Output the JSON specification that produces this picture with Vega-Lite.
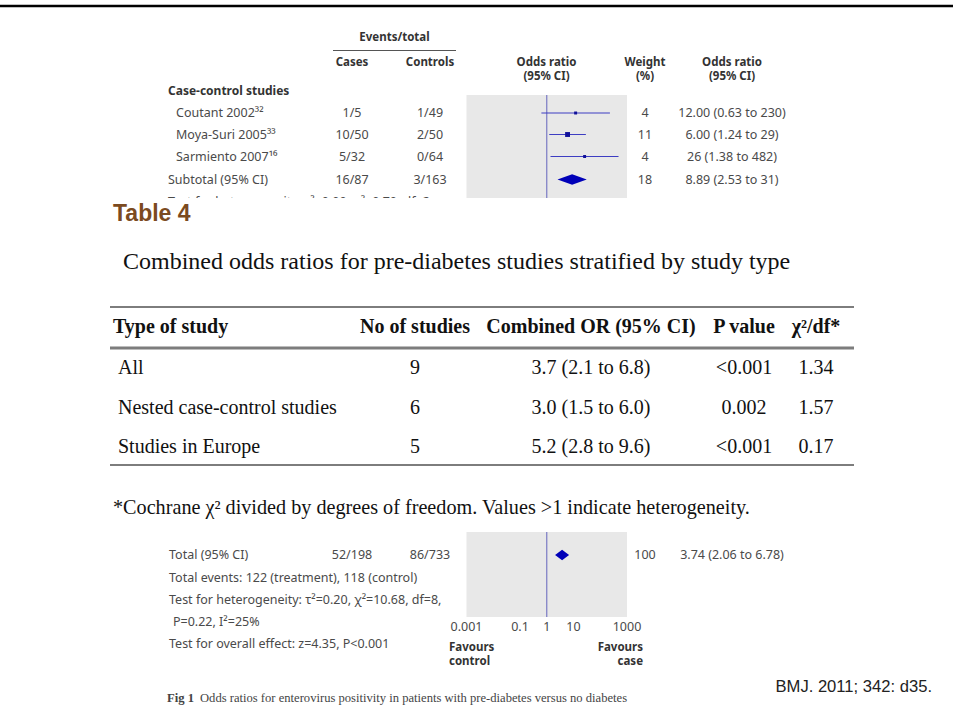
{
  "$schema": "https://vega.github.io/schema/vega-lite/v6.json",
  "width": 953,
  "height": 721,
  "autosize": "none",
  "padding": 0,
  "background": "white",
  "config": {"view": {"stroke": null}},
  "datasets": {
    "page_frame": [{"line": -1}],
    "top_frame": [{"lo": 0.001, "hi": 1000, "null_or": 1, "top": 5, "bottom": 11}],
    "top_forest": [
      {"study": "Coutant 2002", "line": 6, "or": 12, "lo": 0.63, "hi": 230, "weight": 4, "kind": "study"},
      {"study": "Moya-Suri 2005", "line": 7, "or": 6, "lo": 1.24, "hi": 29, "weight": 11, "kind": "study"},
      {"study": "Sarmiento 2007", "line": 8, "or": 26, "lo": 1.38, "hi": 482, "weight": 4, "kind": "study"},
      {"study": "Subtotal", "line": 9, "or": 8.89, "lo": 2.53, "hi": 31, "weight": 18, "kind": "pooled"}
    ],
    "top_rules": [{"line": 1, "from": 2, "to": 6}],
    "top_text": [
      {"line": 0, "col": 4, "text": "Events/total", "kind": "head"},
      {"line": 2, "col": 3, "text": "Cases", "kind": "head"},
      {"line": 2, "col": 5, "text": "Controls", "kind": "head"},
      {"line": 2, "col": 7, "text": "Odds ratio", "kind": "head"},
      {"line": 3, "col": 7, "text": "(95% CI)", "kind": "head"},
      {"line": 2, "col": 8, "text": "Weight", "kind": "head"},
      {"line": 3, "col": 8, "text": "(%)", "kind": "head"},
      {"line": 2, "col": 9, "text": "Odds ratio", "kind": "head"},
      {"line": 3, "col": 9, "text": "(95% CI)", "kind": "head"},
      {"line": 4, "col": 0, "text": "Case-control studies", "kind": "group"},
      {"line": 6, "col": 1, "text": "Coutant 2002³²", "kind": "label"},
      {"line": 6, "col": 3, "text": "1/5", "kind": "cell"},
      {"line": 6, "col": 5, "text": "1/49", "kind": "cell"},
      {"line": 6, "col": 8, "text": "4", "kind": "cell"},
      {"line": 6, "col": 9, "text": "12.00 (0.63 to 230)", "kind": "cell"},
      {"line": 7, "col": 1, "text": "Moya-Suri 2005³³", "kind": "label"},
      {"line": 7, "col": 3, "text": "10/50", "kind": "cell"},
      {"line": 7, "col": 5, "text": "2/50", "kind": "cell"},
      {"line": 7, "col": 8, "text": "11", "kind": "cell"},
      {"line": 7, "col": 9, "text": "6.00 (1.24 to 29)", "kind": "cell"},
      {"line": 8, "col": 1, "text": "Sarmiento 2007¹⁶", "kind": "label"},
      {"line": 8, "col": 3, "text": "5/32", "kind": "cell"},
      {"line": 8, "col": 5, "text": "0/64", "kind": "cell"},
      {"line": 8, "col": 8, "text": "4", "kind": "cell"},
      {"line": 8, "col": 9, "text": "26 (1.38 to 482)", "kind": "cell"},
      {"line": 9, "col": 0, "text": "Subtotal (95% CI)", "kind": "label"},
      {"line": 9, "col": 3, "text": "16/87", "kind": "cell"},
      {"line": 9, "col": 5, "text": "3/163", "kind": "cell"},
      {"line": 9, "col": 8, "text": "18", "kind": "cell"},
      {"line": 9, "col": 9, "text": "8.89 (2.53 to 31)", "kind": "cell"},
      {"line": 10, "col": 0, "text": "Test for heterogeneity: τ²=0.00, χ²=0.70, df=2", "kind": "label"}
    ],
    "table_area": [{"top": 0, "bottom": 11}],
    "table_rules": [
      {"line": 3, "from": 0, "to": 8, "kind": "edge"},
      {"line": 5, "from": 0, "to": 8, "kind": "header"},
      {"line": 9, "from": 0, "to": 8, "kind": "edge"}
    ],
    "table_text": [
      {"line": 1, "col": 1, "text": "Table 4", "kind": "title"},
      {"line": 2, "col": 3, "text": "Combined odds ratios for pre-diabetes studies stratified by study type", "kind": "caption"},
      {"line": 4, "col": 1, "text": "Type of study", "kind": "th_l"},
      {"line": 4, "col": 4, "text": "No of studies", "kind": "th_c"},
      {"line": 4, "col": 5, "text": "Combined OR (95% CI)", "kind": "th_c"},
      {"line": 4, "col": 6, "text": "P value", "kind": "th_c"},
      {"line": 4, "col": 7, "text": "χ²/df*", "kind": "th_c"},
      {"line": 6, "col": 2, "text": "All", "kind": "td_l"},
      {"line": 6, "col": 4, "text": "9", "kind": "td_c"},
      {"line": 6, "col": 5, "text": "3.7 (2.1 to 6.8)", "kind": "td_c"},
      {"line": 6, "col": 6, "text": "<0.001", "kind": "td_c"},
      {"line": 6, "col": 7, "text": "1.34", "kind": "td_c"},
      {"line": 7, "col": 2, "text": "Nested case-control studies", "kind": "td_l"},
      {"line": 7, "col": 4, "text": "6", "kind": "td_c"},
      {"line": 7, "col": 5, "text": "3.0 (1.5 to 6.0)", "kind": "td_c"},
      {"line": 7, "col": 6, "text": "0.002", "kind": "td_c"},
      {"line": 7, "col": 7, "text": "1.57", "kind": "td_c"},
      {"line": 8, "col": 2, "text": "Studies in Europe", "kind": "td_l"},
      {"line": 8, "col": 4, "text": "5", "kind": "td_c"},
      {"line": 8, "col": 5, "text": "5.2 (2.8 to 9.6)", "kind": "td_c"},
      {"line": 8, "col": 6, "text": "<0.001", "kind": "td_c"},
      {"line": 8, "col": 7, "text": "0.17", "kind": "td_c"},
      {"line": 10, "col": 1, "text": "*Cochrane χ² divided by degrees of freedom. Values >1 indicate heterogeneity.", "kind": "note"}
    ],
    "bottom_frame": [{"lo": 0.001, "hi": 1000, "null_or": 1, "top": 0, "bottom": 4}],
    "bottom_forest": [{"study": "Total", "line": 1, "or": 3.74, "lo": 2.06, "hi": 6.78, "weight": 100, "kind": "pooled"}],
    "bottom_ticks": [
      {"tick": 0.001, "label": "0.001", "line": 6},
      {"tick": 0.1, "label": "0.1", "line": 6},
      {"tick": 1, "label": "1", "line": 6},
      {"tick": 10, "label": "10", "line": 6},
      {"tick": 1000, "label": "1000", "line": 6}
    ],
    "bottom_text": [
      {"line": 1, "col": 1, "text": "Total (95% CI)", "kind": "label"},
      {"line": 1, "col": 4, "text": "52/198", "kind": "cell"},
      {"line": 1, "col": 5, "text": "86/733", "kind": "cell"},
      {"line": 1, "col": 8, "text": "100", "kind": "cell"},
      {"line": 1, "col": 9, "text": "3.74 (2.06 to 6.78)", "kind": "cell"},
      {"line": 2, "col": 1, "text": "Total events: 122 (treatment), 118 (control)", "kind": "label"},
      {"line": 3, "col": 1, "text": "Test for heterogeneity: τ²=0.20, χ²=10.68, df=8,", "kind": "label"},
      {"line": 5, "col": 2, "text": "P=0.22, I²=25%", "kind": "label"},
      {"line": 7, "col": 1, "text": "Test for overall effect: z=4.35, P<0.001", "kind": "label"},
      {"line": 8, "col": 6, "text": "Favours", "kind": "fav_l"},
      {"line": 9, "col": 6, "text": "control", "kind": "fav_l"},
      {"line": 8, "col": 7, "text": "Favours", "kind": "fav_r"},
      {"line": 9, "col": 7, "text": "case", "kind": "fav_r"},
      {"line": 11, "col": 0, "text": "Fig 1", "kind": "fig"},
      {"line": 11, "col": 3, "text": "Odds ratios for enterovirus positivity in patients with pre-diabetes versus no diabetes", "kind": "cap"},
      {"line": 10, "col": 10, "text": "BMJ. 2011; 342: d35.", "kind": "src"}
    ]
  },
  "resolve": {"scale": {"x": "independent", "y": "independent", "size": "independent", "shape": "independent", "strokeWidth": "independent"}},
  "layer": [
    {
      "data": {"name": "top_frame"},
      "mark": {"type": "rect", "color": "#e8e8e8"},
      "encoding": {
        "x": {"field": "lo", "type": "quantitative", "scale": {"type": "log", "domain": [0.001, 1000], "range": [466.5, 627], "nice": false}, "axis": null},
        "x2": {"field": "hi"},
        "y": {"field": "top", "type": "quantitative", "scale": {"type": "linear", "domain": [-1, 0, 1, 2, 3, 4, 5, 6, 7, 8, 9, 10, 11], "range": [6, 37.5, 50.5, 62.5, 76.5, 90.5, 95, 113, 134.5, 156.5, 179.5, 202, 215], "nice": false, "zero": false}, "axis": null},
        "y2": {"field": "bottom"}
      }
    },
    {
      "data": {"name": "top_frame"},
      "mark": {"type": "rule", "color": "#7a7ac4", "strokeWidth": 1.2},
      "encoding": {
        "x": {"field": "null_or", "type": "quantitative", "scale": {"type": "log", "domain": [0.001, 1000], "range": [466.5, 627], "nice": false}, "axis": null},
        "y": {"field": "top", "type": "quantitative", "scale": {"type": "linear", "domain": [-1, 0, 1, 2, 3, 4, 5, 6, 7, 8, 9, 10, 11], "range": [6, 37.5, 50.5, 62.5, 76.5, 90.5, 95, 113, 134.5, 156.5, 179.5, 202, 215], "nice": false, "zero": false}, "axis": null},
        "y2": {"field": "bottom"}
      }
    },
    {
      "data": {"name": "top_forest"},
      "transform": [{"filter": "datum.kind === 'study'"}],
      "mark": {"type": "rule", "color": "#3d3dc2", "strokeWidth": 1.2},
      "encoding": {
        "x": {"field": "lo", "type": "quantitative", "scale": {"type": "log", "domain": [0.001, 1000], "range": [466.5, 627], "nice": false}, "axis": null},
        "x2": {"field": "hi"},
        "y": {"field": "line", "type": "quantitative", "scale": {"type": "linear", "domain": [-1, 0, 1, 2, 3, 4, 5, 6, 7, 8, 9, 10, 11], "range": [6, 37.5, 50.5, 62.5, 76.5, 90.5, 95, 113, 134.5, 156.5, 179.5, 202, 215], "nice": false, "zero": false}, "axis": null}
      }
    },
    {
      "data": {"name": "top_forest"},
      "transform": [{"filter": "datum.kind === 'study'"}],
      "mark": {"type": "point", "shape": "square", "filled": true, "color": "#10109a", "opacity": 1},
      "encoding": {
        "x": {"field": "or", "type": "quantitative", "scale": {"type": "log", "domain": [0.001, 1000], "range": [466.5, 627], "nice": false}, "axis": null},
        "y": {"field": "line", "type": "quantitative", "scale": {"type": "linear", "domain": [-1, 0, 1, 2, 3, 4, 5, 6, 7, 8, 9, 10, 11], "range": [6, 37.5, 50.5, 62.5, 76.5, 90.5, 95, 113, 134.5, 156.5, 179.5, 202, 215], "nice": false, "zero": false}, "axis": null},
        "size": {"field": "weight", "type": "quantitative", "scale": {"domain": [0, 11], "range": [0, 24]}, "legend": null}
      }
    },
    {
      "data": {"name": "top_forest"},
      "transform": [{"filter": "datum.kind === 'pooled'"}],
      "mark": {"type": "point", "shape": "M-1,0L0,-0.36L1,0L0,0.36Z", "filled": true, "color": "#0000b8", "opacity": 1, "size": 858},
      "encoding": {
        "x": {"field": "or", "type": "quantitative", "scale": {"type": "log", "domain": [0.001, 1000], "range": [466.5, 627], "nice": false}, "axis": null},
        "y": {"field": "line", "type": "quantitative", "scale": {"type": "linear", "domain": [-1, 0, 1, 2, 3, 4, 5, 6, 7, 8, 9, 10, 11], "range": [6, 37.5, 50.5, 62.5, 76.5, 90.5, 95, 113, 134.5, 156.5, 179.5, 202, 215], "nice": false, "zero": false}, "axis": null}
      }
    },
    {
      "data": {"name": "top_rules"},
      "mark": {"type": "rule", "color": "#555555", "strokeWidth": 1},
      "encoding": {
        "x": {"field": "from", "type": "quantitative", "scale": {"type": "linear", "domain": [0, 1, 2, 3, 4, 5, 6, 7, 8, 9], "range": [168, 176, 333, 352, 394.5, 430, 456, 546.5, 645, 732], "nice": false, "zero": false}, "axis": null},
        "x2": {"field": "to"},
        "y": {"field": "line", "type": "quantitative", "scale": {"type": "linear", "domain": [-1, 0, 1, 2, 3, 4, 5, 6, 7, 8, 9, 10, 11], "range": [6, 37.5, 50.5, 62.5, 76.5, 90.5, 95, 113, 134.5, 156.5, 179.5, 202, 215], "nice": false, "zero": false}, "axis": null}
      }
    },
    {
      "data": {"name": "top_text"},
      "transform": [{"filter": "datum.kind === 'label'"}],
      "mark": {"type": "text", "align": "left", "baseline": "middle", "font": "Noto Sans", "fontSize": 12.5, "color": "#4a4a4a"},
      "encoding": {
        "x": {"field": "col", "type": "quantitative", "scale": {"type": "linear", "domain": [0, 1, 2, 3, 4, 5, 6, 7, 8, 9], "range": [168, 176, 333, 352, 394.5, 430, 456, 546.5, 645, 732], "nice": false, "zero": false}, "axis": null},
        "y": {"field": "line", "type": "quantitative", "scale": {"type": "linear", "domain": [-1, 0, 1, 2, 3, 4, 5, 6, 7, 8, 9, 10, 11], "range": [6, 37.5, 50.5, 62.5, 76.5, 90.5, 95, 113, 134.5, 156.5, 179.5, 202, 215], "nice": false, "zero": false}, "axis": null},
        "text": {"field": "text", "type": "nominal"}
      }
    },
    {
      "data": {"name": "top_text"},
      "transform": [{"filter": "datum.kind === 'cell'"}],
      "mark": {"type": "text", "align": "center", "baseline": "middle", "font": "Noto Sans", "fontSize": 12.5, "color": "#4a4a4a"},
      "encoding": {
        "x": {"field": "col", "type": "quantitative", "scale": {"type": "linear", "domain": [0, 1, 2, 3, 4, 5, 6, 7, 8, 9], "range": [168, 176, 333, 352, 394.5, 430, 456, 546.5, 645, 732], "nice": false, "zero": false}, "axis": null},
        "y": {"field": "line", "type": "quantitative", "scale": {"type": "linear", "domain": [-1, 0, 1, 2, 3, 4, 5, 6, 7, 8, 9, 10, 11], "range": [6, 37.5, 50.5, 62.5, 76.5, 90.5, 95, 113, 134.5, 156.5, 179.5, 202, 215], "nice": false, "zero": false}, "axis": null},
        "text": {"field": "text", "type": "nominal"}
      }
    },
    {
      "data": {"name": "top_text"},
      "transform": [{"filter": "datum.kind === 'head'"}],
      "mark": {"type": "text", "align": "center", "baseline": "middle", "font": "Noto Sans", "fontWeight": "bold", "fontSize": 11.5, "color": "#333333"},
      "encoding": {
        "x": {"field": "col", "type": "quantitative", "scale": {"type": "linear", "domain": [0, 1, 2, 3, 4, 5, 6, 7, 8, 9], "range": [168, 176, 333, 352, 394.5, 430, 456, 546.5, 645, 732], "nice": false, "zero": false}, "axis": null},
        "y": {"field": "line", "type": "quantitative", "scale": {"type": "linear", "domain": [-1, 0, 1, 2, 3, 4, 5, 6, 7, 8, 9, 10, 11], "range": [6, 37.5, 50.5, 62.5, 76.5, 90.5, 95, 113, 134.5, 156.5, 179.5, 202, 215], "nice": false, "zero": false}, "axis": null},
        "text": {"field": "text", "type": "nominal"}
      }
    },
    {
      "data": {"name": "top_text"},
      "transform": [{"filter": "datum.kind === 'group'"}],
      "mark": {"type": "text", "align": "left", "baseline": "middle", "font": "Noto Sans", "fontWeight": "bold", "fontSize": 12, "color": "#333333"},
      "encoding": {
        "x": {"field": "col", "type": "quantitative", "scale": {"type": "linear", "domain": [0, 1, 2, 3, 4, 5, 6, 7, 8, 9], "range": [168, 176, 333, 352, 394.5, 430, 456, 546.5, 645, 732], "nice": false, "zero": false}, "axis": null},
        "y": {"field": "line", "type": "quantitative", "scale": {"type": "linear", "domain": [-1, 0, 1, 2, 3, 4, 5, 6, 7, 8, 9, 10, 11], "range": [6, 37.5, 50.5, 62.5, 76.5, 90.5, 95, 113, 134.5, 156.5, 179.5, 202, 215], "nice": false, "zero": false}, "axis": null},
        "text": {"field": "text", "type": "nominal"}
      }
    },
    {
      "data": {"name": "page_frame"},
      "mark": {"type": "rule", "color": "#000000", "strokeWidth": 2.5},
      "encoding": {
        "y": {"field": "line", "type": "quantitative", "scale": {"type": "linear", "domain": [-1, 0, 1, 2, 3, 4, 5, 6, 7, 8, 9, 10, 11], "range": [6, 37.5, 50.5, 62.5, 76.5, 90.5, 95, 113, 134.5, 156.5, 179.5, 202, 215], "nice": false, "zero": false}, "axis": null}
      }
    },
    {
      "data": {"name": "table_area"},
      "mark": {"type": "rect", "color": "#ffffff"},
      "encoding": {
        "y": {"field": "top", "type": "quantitative", "scale": {"type": "linear", "domain": [0, 1, 2, 3, 4, 5, 6, 7, 8, 9, 10, 11], "range": [198, 214, 262, 307, 327, 348, 368, 408, 447, 465, 508, 530], "nice": false, "zero": false}, "axis": null},
        "y2": {"field": "bottom"}
      }
    },
    {
      "data": {"name": "table_rules"},
      "mark": {"type": "rule", "color": "#7d7d7d"},
      "encoding": {
        "x": {"field": "from", "type": "quantitative", "scale": {"type": "linear", "domain": [0, 1, 2, 3, 4, 5, 6, 7, 8], "range": [110, 113, 118, 123, 415, 591, 744, 816, 854], "nice": false, "zero": false}, "axis": null},
        "x2": {"field": "to"},
        "y": {"field": "line", "type": "quantitative", "scale": {"type": "linear", "domain": [0, 1, 2, 3, 4, 5, 6, 7, 8, 9, 10, 11], "range": [198, 214, 262, 307, 327, 348, 368, 408, 447, 465, 508, 530], "nice": false, "zero": false}, "axis": null},
        "strokeWidth": {"field": "kind", "type": "nominal", "scale": {"domain": ["edge", "header"], "range": [2, 3]}, "legend": null}
      }
    },
    {
      "data": {"name": "table_text"},
      "transform": [{"filter": "datum.kind === 'title'"}],
      "mark": {"type": "text", "align": "left", "baseline": "middle", "font": "Liberation Sans", "fontWeight": "bold", "fontSize": 23, "color": "#7b4a20"},
      "encoding": {
        "x": {"field": "col", "type": "quantitative", "scale": {"type": "linear", "domain": [0, 1, 2, 3, 4, 5, 6, 7, 8], "range": [110, 113, 118, 123, 415, 591, 744, 816, 854], "nice": false, "zero": false}, "axis": null},
        "y": {"field": "line", "type": "quantitative", "scale": {"type": "linear", "domain": [0, 1, 2, 3, 4, 5, 6, 7, 8, 9, 10, 11], "range": [198, 214, 262, 307, 327, 348, 368, 408, 447, 465, 508, 530], "nice": false, "zero": false}, "axis": null},
        "text": {"field": "text", "type": "nominal"}
      }
    },
    {
      "data": {"name": "table_text"},
      "transform": [{"filter": "datum.kind === 'caption'"}],
      "mark": {"type": "text", "align": "left", "baseline": "middle", "font": "Liberation Serif", "fontSize": 24, "color": "#111111"},
      "encoding": {
        "x": {"field": "col", "type": "quantitative", "scale": {"type": "linear", "domain": [0, 1, 2, 3, 4, 5, 6, 7, 8], "range": [110, 113, 118, 123, 415, 591, 744, 816, 854], "nice": false, "zero": false}, "axis": null},
        "y": {"field": "line", "type": "quantitative", "scale": {"type": "linear", "domain": [0, 1, 2, 3, 4, 5, 6, 7, 8, 9, 10, 11], "range": [198, 214, 262, 307, 327, 348, 368, 408, 447, 465, 508, 530], "nice": false, "zero": false}, "axis": null},
        "text": {"field": "text", "type": "nominal"}
      }
    },
    {
      "data": {"name": "table_text"},
      "transform": [{"filter": "datum.kind === 'note'"}],
      "mark": {"type": "text", "align": "left", "baseline": "middle", "font": "Liberation Serif", "fontSize": 20.2, "color": "#111111"},
      "encoding": {
        "x": {"field": "col", "type": "quantitative", "scale": {"type": "linear", "domain": [0, 1, 2, 3, 4, 5, 6, 7, 8], "range": [110, 113, 118, 123, 415, 591, 744, 816, 854], "nice": false, "zero": false}, "axis": null},
        "y": {"field": "line", "type": "quantitative", "scale": {"type": "linear", "domain": [0, 1, 2, 3, 4, 5, 6, 7, 8, 9, 10, 11], "range": [198, 214, 262, 307, 327, 348, 368, 408, 447, 465, 508, 530], "nice": false, "zero": false}, "axis": null},
        "text": {"field": "text", "type": "nominal"}
      }
    },
    {
      "data": {"name": "table_text"},
      "transform": [{"filter": "datum.kind === 'th_l'"}],
      "mark": {"type": "text", "align": "left", "baseline": "middle", "font": "Liberation Serif", "fontWeight": "bold", "fontSize": 20, "color": "#111111"},
      "encoding": {
        "x": {"field": "col", "type": "quantitative", "scale": {"type": "linear", "domain": [0, 1, 2, 3, 4, 5, 6, 7, 8], "range": [110, 113, 118, 123, 415, 591, 744, 816, 854], "nice": false, "zero": false}, "axis": null},
        "y": {"field": "line", "type": "quantitative", "scale": {"type": "linear", "domain": [0, 1, 2, 3, 4, 5, 6, 7, 8, 9, 10, 11], "range": [198, 214, 262, 307, 327, 348, 368, 408, 447, 465, 508, 530], "nice": false, "zero": false}, "axis": null},
        "text": {"field": "text", "type": "nominal"}
      }
    },
    {
      "data": {"name": "table_text"},
      "transform": [{"filter": "datum.kind === 'th_c'"}],
      "mark": {"type": "text", "align": "center", "baseline": "middle", "font": "Liberation Serif", "fontWeight": "bold", "fontSize": 20, "color": "#111111"},
      "encoding": {
        "x": {"field": "col", "type": "quantitative", "scale": {"type": "linear", "domain": [0, 1, 2, 3, 4, 5, 6, 7, 8], "range": [110, 113, 118, 123, 415, 591, 744, 816, 854], "nice": false, "zero": false}, "axis": null},
        "y": {"field": "line", "type": "quantitative", "scale": {"type": "linear", "domain": [0, 1, 2, 3, 4, 5, 6, 7, 8, 9, 10, 11], "range": [198, 214, 262, 307, 327, 348, 368, 408, 447, 465, 508, 530], "nice": false, "zero": false}, "axis": null},
        "text": {"field": "text", "type": "nominal"}
      }
    },
    {
      "data": {"name": "table_text"},
      "transform": [{"filter": "datum.kind === 'td_l'"}],
      "mark": {"type": "text", "align": "left", "baseline": "middle", "font": "Liberation Serif", "fontSize": 20, "color": "#111111"},
      "encoding": {
        "x": {"field": "col", "type": "quantitative", "scale": {"type": "linear", "domain": [0, 1, 2, 3, 4, 5, 6, 7, 8], "range": [110, 113, 118, 123, 415, 591, 744, 816, 854], "nice": false, "zero": false}, "axis": null},
        "y": {"field": "line", "type": "quantitative", "scale": {"type": "linear", "domain": [0, 1, 2, 3, 4, 5, 6, 7, 8, 9, 10, 11], "range": [198, 214, 262, 307, 327, 348, 368, 408, 447, 465, 508, 530], "nice": false, "zero": false}, "axis": null},
        "text": {"field": "text", "type": "nominal"}
      }
    },
    {
      "data": {"name": "table_text"},
      "transform": [{"filter": "datum.kind === 'td_c'"}],
      "mark": {"type": "text", "align": "center", "baseline": "middle", "font": "Liberation Serif", "fontSize": 20, "color": "#111111"},
      "encoding": {
        "x": {"field": "col", "type": "quantitative", "scale": {"type": "linear", "domain": [0, 1, 2, 3, 4, 5, 6, 7, 8], "range": [110, 113, 118, 123, 415, 591, 744, 816, 854], "nice": false, "zero": false}, "axis": null},
        "y": {"field": "line", "type": "quantitative", "scale": {"type": "linear", "domain": [0, 1, 2, 3, 4, 5, 6, 7, 8, 9, 10, 11], "range": [198, 214, 262, 307, 327, 348, 368, 408, 447, 465, 508, 530], "nice": false, "zero": false}, "axis": null},
        "text": {"field": "text", "type": "nominal"}
      }
    },
    {
      "data": {"name": "bottom_frame"},
      "mark": {"type": "rect", "color": "#e8e8e8"},
      "encoding": {
        "x": {"field": "lo", "type": "quantitative", "scale": {"type": "log", "domain": [0.001, 1000], "range": [466.5, 627], "nice": false}, "axis": null},
        "x2": {"field": "hi"},
        "y": {"field": "top", "type": "quantitative", "scale": {"type": "linear", "domain": [0, 1, 2, 3, 4, 5, 6, 7, 8, 9, 10, 11], "range": [532, 555, 578, 599.5, 617, 622, 626.5, 643.5, 648, 662, 687, 697.5], "nice": false, "zero": false}, "axis": null},
        "y2": {"field": "bottom"}
      }
    },
    {
      "data": {"name": "bottom_frame"},
      "mark": {"type": "rule", "color": "#7a7ac4", "strokeWidth": 1.2},
      "encoding": {
        "x": {"field": "null_or", "type": "quantitative", "scale": {"type": "log", "domain": [0.001, 1000], "range": [466.5, 627], "nice": false}, "axis": null},
        "y": {"field": "top", "type": "quantitative", "scale": {"type": "linear", "domain": [0, 1, 2, 3, 4, 5, 6, 7, 8, 9, 10, 11], "range": [532, 555, 578, 599.5, 617, 622, 626.5, 643.5, 648, 662, 687, 697.5], "nice": false, "zero": false}, "axis": null},
        "y2": {"field": "bottom"}
      }
    },
    {
      "data": {"name": "bottom_forest"},
      "mark": {"type": "point", "shape": "M-1,0L0,-0.75L1,0L0,0.75Z", "filled": true, "color": "#0000b8", "opacity": 1, "size": 196},
      "encoding": {
        "x": {"field": "or", "type": "quantitative", "scale": {"type": "log", "domain": [0.001, 1000], "range": [466.5, 627], "nice": false}, "axis": null},
        "y": {"field": "line", "type": "quantitative", "scale": {"type": "linear", "domain": [0, 1, 2, 3, 4, 5, 6, 7, 8, 9, 10, 11], "range": [532, 555, 578, 599.5, 617, 622, 626.5, 643.5, 648, 662, 687, 697.5], "nice": false, "zero": false}, "axis": null}
      }
    },
    {
      "data": {"name": "bottom_ticks"},
      "mark": {"type": "text", "align": "center", "baseline": "middle", "font": "Noto Sans", "fontSize": 12.5, "color": "#4a4a4a"},
      "encoding": {
        "x": {"field": "tick", "type": "quantitative", "scale": {"type": "log", "domain": [0.001, 1000], "range": [466.5, 627], "nice": false}, "axis": null},
        "y": {"field": "line", "type": "quantitative", "scale": {"type": "linear", "domain": [0, 1, 2, 3, 4, 5, 6, 7, 8, 9, 10, 11], "range": [532, 555, 578, 599.5, 617, 622, 626.5, 643.5, 648, 662, 687, 697.5], "nice": false, "zero": false}, "axis": null},
        "text": {"field": "label", "type": "nominal"}
      }
    },
    {
      "data": {"name": "bottom_text"},
      "transform": [{"filter": "datum.kind === 'label'"}],
      "mark": {"type": "text", "align": "left", "baseline": "middle", "font": "Noto Sans", "fontSize": 12.5, "color": "#4a4a4a"},
      "encoding": {
        "x": {"field": "col", "type": "quantitative", "scale": {"type": "linear", "domain": [0, 1, 2, 3, 4, 5, 6, 7, 8, 9, 10], "range": [167, 169, 173, 200, 352, 430, 449, 643, 645, 732, 932], "nice": false, "zero": false}, "axis": null},
        "y": {"field": "line", "type": "quantitative", "scale": {"type": "linear", "domain": [0, 1, 2, 3, 4, 5, 6, 7, 8, 9, 10, 11], "range": [532, 555, 578, 599.5, 617, 622, 626.5, 643.5, 648, 662, 687, 697.5], "nice": false, "zero": false}, "axis": null},
        "text": {"field": "text", "type": "nominal"}
      }
    },
    {
      "data": {"name": "bottom_text"},
      "transform": [{"filter": "datum.kind === 'cell'"}],
      "mark": {"type": "text", "align": "center", "baseline": "middle", "font": "Noto Sans", "fontSize": 12.5, "color": "#4a4a4a"},
      "encoding": {
        "x": {"field": "col", "type": "quantitative", "scale": {"type": "linear", "domain": [0, 1, 2, 3, 4, 5, 6, 7, 8, 9, 10], "range": [167, 169, 173, 200, 352, 430, 449, 643, 645, 732, 932], "nice": false, "zero": false}, "axis": null},
        "y": {"field": "line", "type": "quantitative", "scale": {"type": "linear", "domain": [0, 1, 2, 3, 4, 5, 6, 7, 8, 9, 10, 11], "range": [532, 555, 578, 599.5, 617, 622, 626.5, 643.5, 648, 662, 687, 697.5], "nice": false, "zero": false}, "axis": null},
        "text": {"field": "text", "type": "nominal"}
      }
    },
    {
      "data": {"name": "bottom_text"},
      "transform": [{"filter": "datum.kind === 'fav_l'"}],
      "mark": {"type": "text", "align": "left", "baseline": "middle", "font": "Noto Sans", "fontWeight": "bold", "fontSize": 11.5, "color": "#333333"},
      "encoding": {
        "x": {"field": "col", "type": "quantitative", "scale": {"type": "linear", "domain": [0, 1, 2, 3, 4, 5, 6, 7, 8, 9, 10], "range": [167, 169, 173, 200, 352, 430, 449, 643, 645, 732, 932], "nice": false, "zero": false}, "axis": null},
        "y": {"field": "line", "type": "quantitative", "scale": {"type": "linear", "domain": [0, 1, 2, 3, 4, 5, 6, 7, 8, 9, 10, 11], "range": [532, 555, 578, 599.5, 617, 622, 626.5, 643.5, 648, 662, 687, 697.5], "nice": false, "zero": false}, "axis": null},
        "text": {"field": "text", "type": "nominal"}
      }
    },
    {
      "data": {"name": "bottom_text"},
      "transform": [{"filter": "datum.kind === 'fav_r'"}],
      "mark": {"type": "text", "align": "right", "baseline": "middle", "font": "Noto Sans", "fontWeight": "bold", "fontSize": 11.5, "color": "#333333"},
      "encoding": {
        "x": {"field": "col", "type": "quantitative", "scale": {"type": "linear", "domain": [0, 1, 2, 3, 4, 5, 6, 7, 8, 9, 10], "range": [167, 169, 173, 200, 352, 430, 449, 643, 645, 732, 932], "nice": false, "zero": false}, "axis": null},
        "y": {"field": "line", "type": "quantitative", "scale": {"type": "linear", "domain": [0, 1, 2, 3, 4, 5, 6, 7, 8, 9, 10, 11], "range": [532, 555, 578, 599.5, 617, 622, 626.5, 643.5, 648, 662, 687, 697.5], "nice": false, "zero": false}, "axis": null},
        "text": {"field": "text", "type": "nominal"}
      }
    },
    {
      "data": {"name": "bottom_text"},
      "transform": [{"filter": "datum.kind === 'fig'"}],
      "mark": {"type": "text", "align": "left", "baseline": "middle", "font": "Liberation Serif", "fontWeight": "bold", "fontSize": 12.6, "color": "#444444"},
      "encoding": {
        "x": {"field": "col", "type": "quantitative", "scale": {"type": "linear", "domain": [0, 1, 2, 3, 4, 5, 6, 7, 8, 9, 10], "range": [167, 169, 173, 200, 352, 430, 449, 643, 645, 732, 932], "nice": false, "zero": false}, "axis": null},
        "y": {"field": "line", "type": "quantitative", "scale": {"type": "linear", "domain": [0, 1, 2, 3, 4, 5, 6, 7, 8, 9, 10, 11], "range": [532, 555, 578, 599.5, 617, 622, 626.5, 643.5, 648, 662, 687, 697.5], "nice": false, "zero": false}, "axis": null},
        "text": {"field": "text", "type": "nominal"}
      }
    },
    {
      "data": {"name": "bottom_text"},
      "transform": [{"filter": "datum.kind === 'cap'"}],
      "mark": {"type": "text", "align": "left", "baseline": "middle", "font": "Liberation Serif", "fontSize": 12.6, "color": "#444444"},
      "encoding": {
        "x": {"field": "col", "type": "quantitative", "scale": {"type": "linear", "domain": [0, 1, 2, 3, 4, 5, 6, 7, 8, 9, 10], "range": [167, 169, 173, 200, 352, 430, 449, 643, 645, 732, 932], "nice": false, "zero": false}, "axis": null},
        "y": {"field": "line", "type": "quantitative", "scale": {"type": "linear", "domain": [0, 1, 2, 3, 4, 5, 6, 7, 8, 9, 10, 11], "range": [532, 555, 578, 599.5, 617, 622, 626.5, 643.5, 648, 662, 687, 697.5], "nice": false, "zero": false}, "axis": null},
        "text": {"field": "text", "type": "nominal"}
      }
    },
    {
      "data": {"name": "bottom_text"},
      "transform": [{"filter": "datum.kind === 'src'"}],
      "mark": {"type": "text", "align": "right", "baseline": "middle", "font": "Liberation Sans", "fontSize": 16.6, "color": "#222222"},
      "encoding": {
        "x": {"field": "col", "type": "quantitative", "scale": {"type": "linear", "domain": [0, 1, 2, 3, 4, 5, 6, 7, 8, 9, 10], "range": [167, 169, 173, 200, 352, 430, 449, 643, 645, 732, 932], "nice": false, "zero": false}, "axis": null},
        "y": {"field": "line", "type": "quantitative", "scale": {"type": "linear", "domain": [0, 1, 2, 3, 4, 5, 6, 7, 8, 9, 10, 11], "range": [532, 555, 578, 599.5, 617, 622, 626.5, 643.5, 648, 662, 687, 697.5], "nice": false, "zero": false}, "axis": null},
        "text": {"field": "text", "type": "nominal"}
      }
    }
  ]
}
